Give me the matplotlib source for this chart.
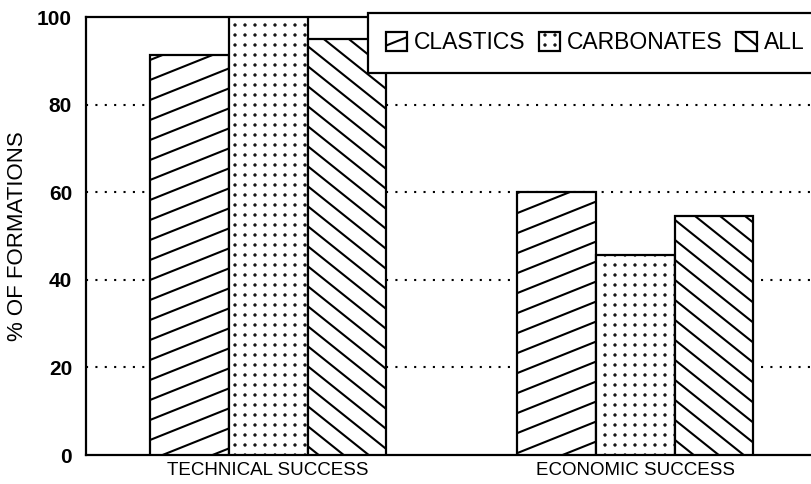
import numpy as np
import matplotlib
matplotlib.use('Agg')
import matplotlib.pyplot as plt
import matplotlib.hatch as mhatch
from matplotlib.path import Path

categories = ['TECHNICAL SUCCESS', 'ECONOMIC SUCCESS']
clastics = [91.4, 60.0]
carbonates = [100.0, 45.7]
all_formations = [95.1, 54.7]
series_names = ['CLASTICS', 'CARBONATES', 'ALL']
yticks = [0, 20, 40, 60, 80, 100]


# hatch patterns closer to the scanned figure than the stock 45 degree ones
class ShallowLines(mhatch.HatchPatternBase):
    # '/' : lines rising at slope 0.4, 5 per tile
    def __init__(self, hatch, density):
        self.n = 5 if '/' in hatch else 0
        self.ks = np.arange(-2, 6) if self.n else np.arange(0)
        self.num_vertices = 2 * len(self.ks)

    def set_vertices_and_codes(self, vertices, codes):
        c = self.ks / self.n
        vertices[0::2, 0] = 0.0
        vertices[0::2, 1] = c
        vertices[1::2, 0] = 1.0
        vertices[1::2, 1] = c + 0.4
        codes[0::2] = Path.MOVETO
        codes[1::2] = Path.LINETO


class SteepLines(mhatch.HatchPatternBase):
    # '\' : lines falling at slope 0.8, 5 per tile
    def __init__(self, hatch, density):
        self.n = 5 if '\\' in hatch else 0
        self.ks = np.arange(0, 10) if self.n else np.arange(0)
        self.num_vertices = 2 * len(self.ks)

    def set_vertices_and_codes(self, vertices, codes):
        c = self.ks / self.n
        vertices[0::2, 0] = 0.0
        vertices[0::2, 1] = c
        vertices[1::2, 0] = 1.0
        vertices[1::2, 1] = c - 0.8
        codes[0::2] = Path.MOVETO
        codes[1::2] = Path.LINETO


class GridDots(mhatch.HatchPatternBase):
    # '.' : square grid of small dots, 10 per tile
    def __init__(self, hatch, density):
        self.n = 10 if '.' in hatch else 0
        circ = Path.unit_circle()
        self.shape_v = circ.vertices * 0.006
        self.shape_c = circ.codes
        self.num_vertices = self.n * self.n * len(self.shape_v)

    def set_vertices_and_codes(self, vertices, codes):
        vs, cs = [], []
        for i in range(self.n):
            for j in range(self.n):
                vs.append(self.shape_v + [(i + 0.5) / self.n, (j + 0.5) / self.n])
                cs.append(self.shape_c)
        np.concatenate(vs, out=vertices)
        np.concatenate(cs, out=codes)


mhatch._hatch_types = [ShallowLines, SteepLines, GridDots]

plt.rcParams['font.family'] = ['Liberation Sans', 'DejaVu Sans']
plt.rcParams['hatch.linewidth'] = 1.5
plt.rcParams['hatch.color'] = 'black'

fig = plt.figure(figsize=(8.12, 4.84), dpi=100)
ax = fig.add_axes([0.1059, 0.0599, 0.8941, 0.9043])

x = np.arange(len(categories))
w = 0.215
hatches = ['/', '.', '\\']
for k, (vals, name) in enumerate(zip([clastics, carbonates, all_formations], series_names)):
    ax.bar(x + (k - 1) * w, vals, w, color='white', edgecolor='black',
           linewidth=1.6, hatch=hatches[k], label=name, zorder=3)

ax.set_xlim(-0.496, 1.482)
ax.set_ylim(0, 100)
ax.set_yticks(yticks)
ax.set_yticklabels([str(v) for v in yticks], fontsize=15, fontweight='bold')
ax.set_xticks(x)
ax.set_xticklabels(categories, fontsize=13.5)
ax.tick_params(axis='y', length=0, pad=10)
ax.tick_params(axis='x', length=0, pad=5)

for v in yticks[1:-1]:
    ax.axhline(v, color='black', linewidth=1.5, linestyle=(0, (1, 3.5)), zorder=1)

for s in ['left', 'bottom', 'top']:
    ax.spines[s].set_linewidth(1.6)
ax.spines['right'].set_visible(False)

ax.set_ylabel('% OF FORMATIONS', fontsize=16)
ax.yaxis.set_label_coords(-0.080, 0.5)

leg = ax.legend(loc='upper left', bbox_to_anchor=(368 / 812, 1 - 13 / 484),
                bbox_transform=fig.transFigure, ncol=3, fontsize=16.5,
                frameon=True, fancybox=False, edgecolor='black', framealpha=1,
                handlelength=0.9, handleheight=0.9, handletextpad=0.3,
                columnspacing=0.6, borderpad=0.8, borderaxespad=0)
leg.get_frame().set_linewidth(1.6)
leg.set_zorder(5)

fig.savefig('out.png', dpi=100)
